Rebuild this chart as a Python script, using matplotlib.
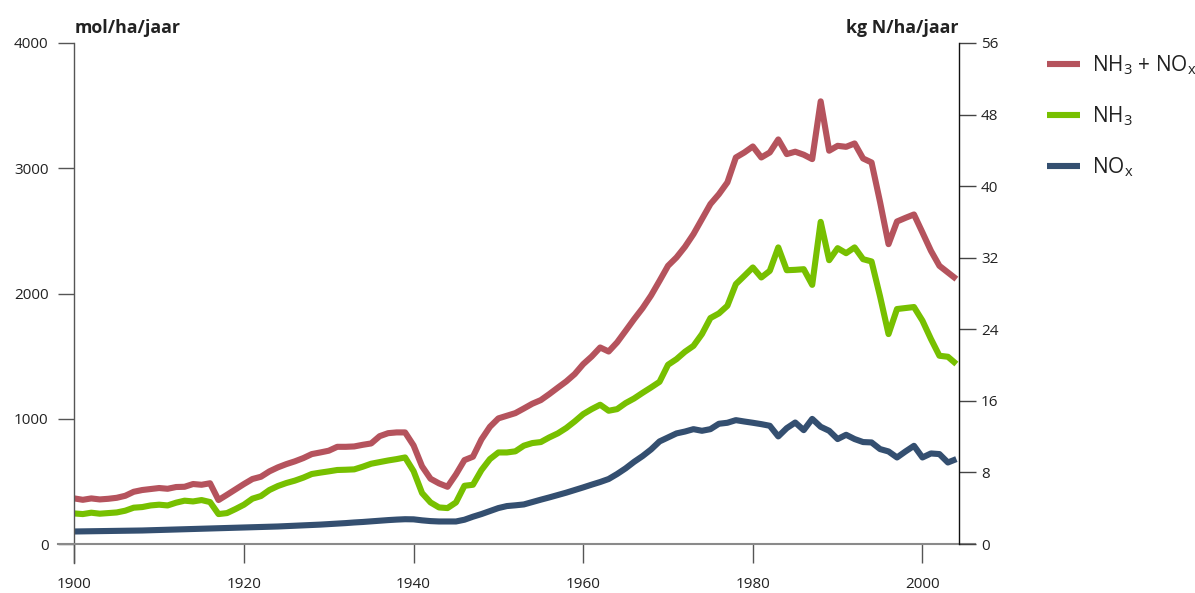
import matplotlib
matplotlib.use('Agg')
import matplotlib.pyplot as plt

plt.rcParams['font.family'] = ['Open Sans', 'DejaVu Sans']
plt.rcParams['mathtext.fontset'] = 'custom'
plt.rcParams['mathtext.rm'] = 'Open Sans'
plt.rcParams['mathtext.it'] = 'Open Sans'

# depositie in mol/ha/jaar, jaarlijks 1900-2004
jaren = list(range(1900, 2005))

totaal = [364, 353, 364, 356, 361, 369, 385, 417, 431, 439,
          447, 441, 455, 457, 479, 473, 485, 351, 393, 436,
          479, 519, 537, 580, 612, 638, 660, 686, 718, 731,
          745, 776, 776, 779, 792, 803, 861, 885, 891, 891,
          787, 620, 521, 484, 457, 556, 670, 697, 835, 936,
          1003, 1024, 1045, 1082, 1120, 1149, 1197, 1248, 1298, 1357,
          1436, 1497, 1569, 1537, 1610, 1702, 1795, 1883, 1984, 2101,
          2221, 2288, 2373, 2474, 2594, 2714, 2793, 2887, 3086, 3126,
          3174, 3086, 3126, 3230, 3113, 3132, 3108, 3073, 3534, 3140,
          3179, 3171, 3198, 3078, 3046, 2731, 2394, 2575, 2604, 2631,
          2487, 2341, 2221, 2168, 2115]

nh3 = [244, 239, 250, 242, 247, 252, 266, 290, 295, 308,
       314, 308, 330, 346, 340, 351, 335, 239, 247, 279,
       314, 362, 383, 431, 463, 487, 506, 530, 559, 570,
       580, 591, 593, 596, 617, 641, 654, 667, 678, 691,
       582, 407, 332, 292, 287, 332, 465, 473, 590, 678,
       731, 731, 740, 785, 806, 814, 851, 883, 926, 979,
       1037, 1077, 1112, 1064, 1077, 1125, 1162, 1207, 1250, 1295,
       1431, 1476, 1535, 1582, 1676, 1804, 1841, 1902, 2075, 2141,
       2208, 2128, 2181, 2368, 2186, 2189, 2194, 2069, 2572, 2266,
       2362, 2322, 2368, 2274, 2256, 1977, 1676, 1876, 1884, 1892,
       1783, 1637, 1503, 1495, 1437]

nox = [100, 101, 102, 103, 104, 105, 106, 107, 108, 110,
       112, 114, 116, 118, 120, 122, 124, 126, 128, 130,
       132, 134, 136, 138, 140, 143, 146, 149, 152, 155,
       159, 163, 167, 172, 176, 181, 186, 191, 195, 198,
       197, 189, 183, 180, 180, 180, 194, 218, 239, 263,
       287, 303, 309, 316, 335, 354, 372, 391, 410, 431,
       452, 474, 495, 519, 559, 604, 656, 702, 755, 819,
       851, 883, 898, 917, 904, 917, 960, 968, 989, 978,
       968, 957, 944, 859, 925, 970, 909, 999, 936, 904,
       838, 872, 838, 814, 811, 758, 739, 691, 739, 784,
       691, 723, 718, 651, 678]

rood = '#b5535d'
groen = '#77c000'
blauw = '#344f70'
tekst = '#222222'

fig = plt.figure(figsize=(11.95, 5.93), dpi=100)
ax = fig.add_axes([0.0622, 0.0826, 0.7406, 0.8449])

l1, = ax.plot(jaren, totaal, color=rood, lw=4.4, solid_joinstyle='round', solid_capstyle='butt')
l2, = ax.plot(jaren, nh3, color=groen, lw=4.4, solid_joinstyle='round', solid_capstyle='butt')
l3, = ax.plot(jaren, nox, color=blauw, lw=4.4, solid_joinstyle='round', solid_capstyle='butt')

ax.set_xlim(1900, 2004.35)
ax.set_ylim(0, 4000)
ax.set_xticks(range(1900, 2001, 20))
ax.set_yticks(range(0, 4001, 1000))

ax2 = ax.twinx()
ax2.set_ylim(0, 56)
ax2.set_yticks(range(0, 57, 8))

for s in ['top', 'right']:
    ax.spines[s].set_visible(False)
for s in ['top', 'left', 'bottom']:
    ax2.spines[s].set_visible(False)

ax.spines['bottom'].set_bounds(1898.08, 2006.16)
ax.spines['bottom'].set_color('#8a8a8a')
ax.spines['bottom'].set_linewidth(1.5)
ax.spines['left'].set_bounds(-152, 4000)
ax.spines['left'].set_color('#555555')
ax.spines['left'].set_linewidth(1.0)
ax2.spines['right'].set_color('#111111')
ax2.spines['right'].set_linewidth(1.0)

ax.tick_params(axis='x', direction='out', length=13.7, width=1, color='#555555',
               pad=10, labelsize=11, labelcolor=tekst)
ax.tick_params(axis='y', direction='out', length=11.5, width=1, color='#555555',
               pad=7, labelsize=11, labelcolor=tekst)
ax2.tick_params(axis='y', direction='out', length=12, width=1, color='#444444',
                pad=3.6, labelsize=11, labelcolor=tekst)

fig.text(74.3 / 1195, 1 - 33 / 593, 'mol/ha/jaar', fontsize=12.8, fontweight='bold',
         color=tekst, ha='left', va='baseline')
fig.text(959 / 1195, 1 - 33 / 593, 'kg N/ha/jaar', fontsize=12.8, fontweight='bold',
         color=tekst, ha='right', va='baseline')

fig.legend([l1, l2, l3],
           [r'NH$_3$ + NO$_\mathrm{x}$', r'NH$_3$', r'NO$_\mathrm{x}$'],
           loc='upper left', bbox_to_anchor=(1047 / 1195, 1 - 53 / 593),
           frameon=False, fontsize=15, handlelength=1.6, handletextpad=0.55,
           labelspacing=1.32, borderpad=0, borderaxespad=0, labelcolor=tekst)

fig.savefig('out.png', dpi=100)
